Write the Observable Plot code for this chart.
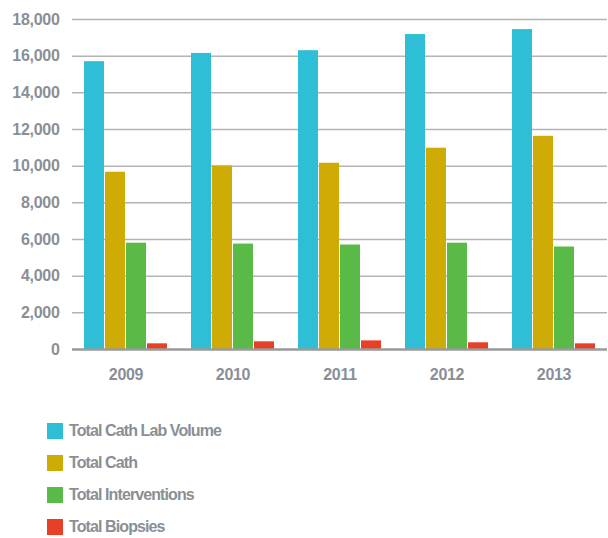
<!DOCTYPE html>
<html>
<head>
<meta charset="utf-8">
<script src="https://cdn.jsdelivr.net/npm/d3@7"></script>
<script src="https://cdn.jsdelivr.net/npm/@observablehq/plot@0.6"></script>
<style>
  html, body { margin: 0; padding: 0; background: #fff; overflow: hidden; }
  #chart { width: 608px; }
  .legend { margin-top: 20px; padding-left: 47px; font-family: "Liberation Sans", Arial, sans-serif; font-weight: bold; font-size: 16px; color: #8a8f96; letter-spacing: -0.9px; }
  .legend .row { height: 32px; display: flex; align-items: center; }
  .legend .sw { width: 16px; height: 16px; margin-right: 6px; flex: none; }
</style>
</head>
<body>
<div id="chart"></div>
<script>
const years = ["2009", "2010", "2011", "2012", "2013"];
const seriesNames = ["Total Cath Lab Volume", "Total Cath", "Total Interventions", "Total Biopsies"];
const colors = ["#2ebfd7", "#cfab05", "#5aba47", "#e84027"];
const cathLabVolume = [15700, 16150, 16300, 17180, 17450];
const totalCath = [9670, 10010, 10160, 10980, 11630];
const totalInterventions = [5800, 5750, 5700, 5800, 5590];
const totalBiopsies = [310, 420, 470, 365, 310];
const yTicks = [0, 2000, 4000, 6000, 8000, 10000, 12000, 14000, 16000, 18000];

const seriesValues = [cathLabVolume, totalCath, totalInterventions, totalBiopsies];
const data = [];
years.forEach((yr, i) => {
  seriesNames.forEach((s, j) => data.push({year: yr, series: s, value: seriesValues[j][i]}));
});

const plot = Plot.plot({
  width: 608,
  height: 395,
  marginLeft: 71,
  marginRight: 0,
  marginTop: 19,
  marginBottom: 46,
  style: {fontFamily: "'Liberation Sans', Arial, sans-serif", fontSize: "16px", fontWeight: "bold", color: "#8a8f96", background: "#fff", letterSpacing: "-0.3px"},
  fx: {domain: years, padding: 0, label: null, axis: "bottom", tickSize: 0, tickPadding: 19},
  x: {domain: seriesNames, axis: null, paddingInner: 0.07, paddingOuter: 0.556},
  y: {domain: [0, 18000], ticks: yTicks, tickFormat: d3.format(","), label: null, tickSize: 0, tickPadding: 13},
  color: {domain: seriesNames, range: colors},
  marks: [
    Plot.ruleY(yTicks.slice(1), {stroke: "#b4b4b4", strokeWidth: 1.5}),
    Plot.barY(data, {fx: "year", x: "series", y: "value", fill: "series"}),
    Plot.ruleY([0], {stroke: "#9a9a9a", strokeWidth: 2.5})
  ]
});
document.getElementById("chart").appendChild(plot);

const legend = document.createElement("div");
legend.className = "legend";
seriesNames.forEach((s, j) => {
  const row = document.createElement("div");
  row.className = "row";
  const sw = document.createElement("span");
  sw.className = "sw";
  sw.style.background = colors[j];
  const t = document.createElement("span");
  t.textContent = s;
  row.appendChild(sw);
  row.appendChild(t);
  legend.appendChild(row);
});
document.body.appendChild(legend);
</script>
</body>
</html>
